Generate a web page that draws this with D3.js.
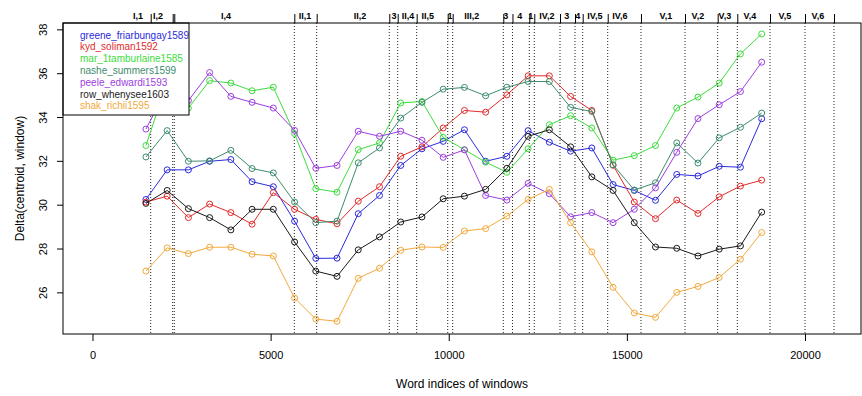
<!DOCTYPE html>
<meta charset="utf-8">
<style>
body { margin: 0; background: #fff; }
text { font-family: "Liberation Sans", Arial, sans-serif; }
.axis path, .axis line { stroke: #000; }
.axis text { font-size: 11px; fill: #000; }
.bound { stroke: #222; stroke-dasharray: 1,2; }
.act text { font-size: 9px; font-weight: bold; }
</style>
<body>
<script src="https://cdn.jsdelivr.net/npm/d3@7"></script>
<script>

// window centres (word index)
var windows = [1500, 2096, 2692, 3288, 3884, 4480, 5076, 5672, 6268, 6864,
  7460, 8056, 8652, 9248, 9844, 10440, 11036, 11632, 12228, 12824,
  13420, 14016, 14612, 15208, 15804, 16400, 16996, 17592, 18188, 18784];

var names = ["greene_friarbungay1589", "kyd_soliman1592", "mar_1tamburlaine1585",
  "nashe_summers1599", "peele_edwardi1593", "row_whenysee1603", "shak_richii1595"];
var colors = ["#2b2bdc", "#e22a2a", "#3ddc3d", "#3d8c6c", "#9c3ee0", "#1a1a1a", "#f2a93b"];

var greene = [30.24, 31.59, 31.59, 31.98, 32.06, 31.05, 30.82, 29.25, 27.55, 27.56,
  29.59, 30.42, 31.79, 32.55, 32.89, 33.42, 31.98, 32.21, 33.38, 32.85,
  32.44, 32.59, 30.92, 30.65, 30.20, 31.38, 31.31, 31.75, 31.71, 33.92];
var kyd = [30.12, 30.39, 29.41, 30.03, 29.64, 29.11, 30.55, 29.79, 29.33, 29.13,
  30.16, 30.82, 32.21, 32.64, 33.50, 34.30, 34.22, 35.01, 35.88, 35.88,
  34.94, 34.30, 31.80, 30.12, 29.36, 30.21, 29.60, 30.36, 30.85, 31.12];
var mar = [32.70, 35.60, 34.41, 35.66, 35.55, 35.20, 35.36, 33.24, 30.73, 30.57,
  32.51, 32.82, 34.64, 34.71, 33.07, 32.51, 31.94, 31.48, 32.55, 33.65,
  34.06, 33.50, 32.03, 32.24, 32.70, 34.41, 34.91, 35.55, 36.88, 37.79];
var nashe = [32.18, 33.38, 31.98, 32.00, 32.48, 31.65, 31.45, 30.12, 29.18, 29.25,
  31.91, 32.59, 33.95, 34.67, 35.27, 35.35, 34.97, 35.36, 35.62, 35.62,
  34.44, 34.25, 31.82, 30.67, 31.00, 32.82, 31.90, 33.05, 33.53, 34.18];
var peele = [33.45, 35.30, 34.75, 36.03, 34.94, 34.67, 34.41, 33.39, 31.66, 31.79,
  33.35, 33.12, 33.35, 32.94, 32.16, 32.50, 30.42, 30.21, 30.97, 30.50,
  29.45, 29.64, 29.18, 29.79, 30.77, 32.39, 33.93, 34.56, 35.16, 36.50];
var row = [30.06, 30.65, 29.82, 29.41, 28.85, 29.79, 29.79, 28.30, 26.97, 26.73,
  27.94, 28.53, 29.21, 29.44, 30.27, 30.39, 30.70, 31.66, 33.12, 33.42,
  32.64, 31.27, 30.65, 29.18, 28.07, 28.01, 27.66, 27.97, 28.12, 29.66];
var shak = [26.97, 28.03, 27.77, 28.06, 28.06, 27.74, 27.66, 25.74, 24.78, 24.68,
  26.64, 27.10, 27.92, 28.07, 28.05, 28.80, 28.91, 29.48, 30.24, 30.70,
  29.18, 27.85, 26.23, 25.06, 24.86, 26.00, 26.27, 26.68, 27.51, 28.73];
var series = [greene, kyd, mar, nashe, peele, row, shak];

// scene boundaries (word index) and scene labels
var bounds = [1634, 2251, 2296, 5665, 6293, 8331, 8567, 9100, 9971, 10111,
  11531, 11789, 12261, 12401, 13123, 13544, 13760, 14462, 15396, 16632,
  17549, 18100, 19018, 20000, 20814];
var sceneLabels = ["I,1", "I,2", "I,4", "II,1", "II,2", "3", "II,4", "II,5", "1", "III,2",
  "3", "4", "1", "IV,2", "3", "4", "IV,5", "IV,6", "V,1", "V,2", "V,3", "V,4", "V,5", "V,6"];
var sceneAt = [1277, 1838, 3746, 5963, 7506, 8460, 8853, 9414, 10032, 10649,
  11603, 11996, 12305, 12754, 13315, 13624, 14101, 14803, 16094, 16992,
  17750, 18452, 19434, 20360];

var xTicks = [0, 5000, 10000, 15000, 20000];
var yTicks = [26, 28, 30, 32, 34, 36, 38];

var box = {left: 63, right: 861, top: 23, bottom: 334};

var svg = d3.select("body").append("svg")
    .attr("width", 862)
    .attr("height", 396);

var x = d3.scaleLinear().domain([-828, 21572]).range([box.left, box.right]);
var y = d3.scaleLinear().domain([24.10, 38.29]).range([box.bottom, box.top]);

// scene boundaries
svg.selectAll(".bound")
    .data(bounds)
  .enter().append("line")
    .attr("class", "bound")
    .attr("x1", d => x(d)).attr("x2", d => x(d))
    .attr("y1", box.top).attr("y2", box.bottom);

// series lines and points
var line = d3.line()
    .x((d, i) => x(windows[i]))
    .y(d => y(d));

series.forEach(function(s, k) {
  svg.append("path")
      .attr("d", line(s))
      .attr("fill", "none")
      .attr("stroke", colors[k])
      .attr("stroke-width", 1);
  svg.selectAll(".pt" + k)
      .data(s)
    .enter().append("circle")
      .attr("cx", (d, i) => x(windows[i]))
      .attr("cy", d => y(d))
      .attr("r", 3)
      .attr("fill", "none")
      .attr("stroke", colors[k])
      .attr("stroke-width", 1);
});

// legend
var leg = svg.append("g");
leg.append("rect")
    .attr("x", box.left).attr("y", box.top)
    .attr("width", 126).attr("height", 92)
    .attr("fill", "#fff").attr("stroke", "#000");
leg.selectAll("text")
    .data(names)
  .enter().append("text")
    .attr("x", 80)
    .attr("y", (d, i) => 38.5 + i * 11.8)
    .attr("font-size", "10px")
    .attr("fill", (d, i) => colors[i])
    .text(d => d);

// box
svg.append("rect")
    .attr("x", box.left).attr("y", box.top)
    .attr("width", box.right - box.left).attr("height", box.bottom - box.top)
    .attr("fill", "none").attr("stroke", "#000");

// axes
svg.append("g")
    .attr("class", "axis")
    .attr("transform", "translate(0," + box.bottom + ")")
    .call(d3.axisBottom(x).tickValues(xTicks).tickSize(7).tickSizeOuter(0)
        .tickPadding(10).tickFormat(d3.format("d")))
    .call(g => g.select(".domain").remove());

svg.append("g")
    .attr("class", "axis")
    .attr("transform", "translate(" + box.left + ",0)")
    .call(d3.axisLeft(y).tickValues(yTicks).tickSize(6).tickSizeOuter(0))
    .call(g => g.select(".domain").remove())
    .call(g => g.selectAll(".tick text")
        .attr("x", 0).attr("dy", 0)
        .attr("transform", "translate(-16,0) rotate(-90)")
        .attr("text-anchor", "middle"));

svg.append("g")
    .attr("class", "axis")
    .attr("transform", "translate(0," + box.top + ")")
    .call(d3.axisTop(x).tickValues(bounds).tickSize(9).tickSizeOuter(0).tickFormat(""))
    .call(g => g.select(".domain").remove());

svg.append("g")
    .attr("class", "act")
    .selectAll("text")
    .data(sceneLabels)
  .enter().append("text")
    .attr("x", (d, i) => x(sceneAt[i]))
    .attr("y", 19)
    .attr("text-anchor", "middle")
    .text(d => d);

// titles
svg.append("text")
    .attr("x", (box.left + box.right) / 2)
    .attr("y", 388)
    .attr("text-anchor", "middle")
    .attr("font-size", "12px")
    .text("Word indices of windows");

svg.append("text")
    .attr("transform", "translate(24," + (box.top + box.bottom) / 2 + ") rotate(-90)")
    .attr("text-anchor", "middle")
    .attr("font-size", "12px")
    .text("Delta(centroid, window)");

</script>
</body>
